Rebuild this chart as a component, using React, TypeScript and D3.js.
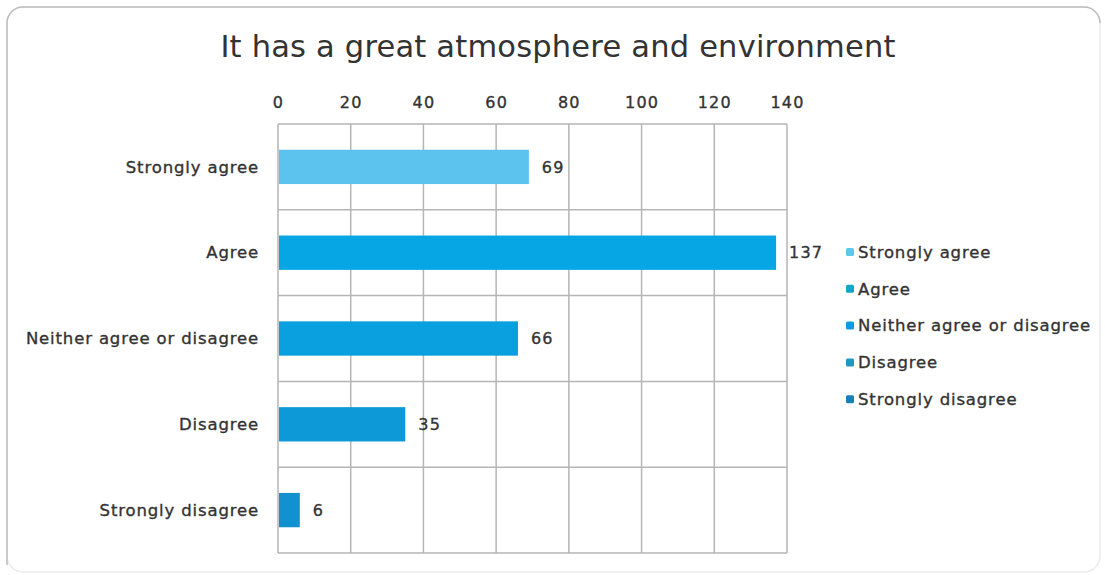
import React, { useEffect, useRef } from 'react'
import * as d3 from 'd3'

const categories = ['Strongly agree', 'Agree', 'Neither agree or disagree', 'Disagree', 'Strongly disagree']
const counts = [69, 137, 66, 35, 6]
const barColors = ['#5cc3ee', '#06a5e4', '#0a9fde', '#0d99d8', '#1291d0']
const legendColors = ['#5ec9e6', '#12a6c8', '#0a9ce2', '#1e97c2', '#1b80b8']
const xTicks = [0, 20, 40, 60, 80, 100, 120, 140]
const title = 'It has a great atmosphere and environment'

export default function App() {
  const ref = useRef<SVGSVGElement | null>(null)

  useEffect(() => {
    const width = 1105
    const height = 575
    const svg = d3.select(ref.current!)
    svg.selectAll('*').remove()
    const font = '"DejaVu Sans", sans-serif'
    const margin = { top: 124, right: 318, bottom: 22, left: 278 }

    // label text style used all over
    const label = (sel: any, size = 16.5) => sel
      .attr('font-family', font).attr('font-size', size).attr('fill', '#333')
      .attr('letter-spacing', 0.85).attr('stroke', '#333').attr('stroke-width', 0.35)

    svg.append('rect').attr('width', width).attr('height', height).attr('fill', '#fff')
    svg.append('rect')
      .attr('x', 7).attr('y', 7).attr('width', 1093).attr('height', 565)
      .attr('rx', 16).attr('fill', '#fff').attr('stroke', '#ececec').attr('stroke-width', 1.5)
    svg.append('path')
      .attr('d', 'M7,565 V23 A16,16 0 0 1 23,7 H1084 A16,16 0 0 1 1100,23')
      .attr('fill', 'none').attr('stroke', '#bdbdbd').attr('stroke-width', 1.5)

    svg.append('text')
      .attr('x', 558).attr('y', 57).attr('text-anchor', 'middle')
      .attr('font-family', font).attr('font-size', 30.5).attr('fill', '#333')
      .attr('letter-spacing', 0.2)
      .text(title)

    const x = d3.scaleLinear().domain([0, 140]).range([margin.left, width - margin.right])
    const y = d3.scaleBand<string>().domain(categories).range([margin.top, height - margin.bottom]).paddingInner(0.6).paddingOuter(0.3)
    const band = d3.scaleBand<string>().domain(categories).range([margin.top, height - margin.bottom])

    const grid = svg.append('g').attr('stroke', '#b5b5b5').attr('stroke-width', 1.5)
    grid.selectAll('line.v').data(xTicks).enter().append('line')
      .attr('x1', d => x(d)).attr('x2', d => x(d))
      .attr('y1', margin.top).attr('y2', height - margin.bottom)
    const hLines = categories.map(c => band(c)!).concat([height - margin.bottom])
    grid.selectAll('line.h').data(hLines).enter().append('line')
      .attr('x1', x(0)).attr('x2', x(140))
      .attr('y1', d => d).attr('y2', d => d)

    const axis = svg.append('g')
      .attr('transform', `translate(0,${margin.top - 16})`)
      .call(d3.axisTop(x).tickValues(xTicks).tickSize(0).tickPadding(0))
    axis.select('.domain').remove()
    axis.selectAll('text').call(label, 16).attr('letter-spacing', 1.2)

    svg.append('g').selectAll('rect').data(categories).enter().append('rect')
      .attr('x', x(0) + 1)
      .attr('y', d => y(d)!)
      .attr('width', (d, i) => x(counts[i]) - x(0) - 1)
      .attr('height', y.bandwidth())
      .attr('fill', (d, i) => barColors[i])

    svg.append('g').selectAll('text').data(categories).enter().append('text')
      .attr('x', (d, i) => x(counts[i]) + 13)
      .attr('y', d => y(d)! + y.bandwidth() / 2)
      .attr('dy', '0.35em')
      .call(label, 16)
      .attr('letter-spacing', 1.2)
      .text((d, i) => counts[i])

    svg.append('g').selectAll('text').data(categories).enter().append('text')
      .attr('x', 259)
      .attr('y', d => band(d)! + band.bandwidth() / 2)
      .attr('dy', '0.35em')
      .attr('text-anchor', 'end')
      .call(label)
      .text(d => d)

    const legend = svg.append('g').attr('transform', 'translate(846,252)')
    const item = legend.selectAll('g').data(categories).enter().append('g')
      .attr('transform', (d, i) => `translate(0,${i * 36.8})`)
    item.append('rect').attr('x', 0).attr('y', -4).attr('width', 8).attr('height', 8).attr('rx', 1.5)
      .attr('fill', (d, i) => legendColors[i])
    item.append('text').attr('x', 12).attr('dy', '0.35em')
      .call(label)
      .text(d => d)
  }, [])

  return (
    <svg ref={ref} width={1105} height={575} style={{ position: 'absolute', left: 0, top: 0 }} />
  )
}
